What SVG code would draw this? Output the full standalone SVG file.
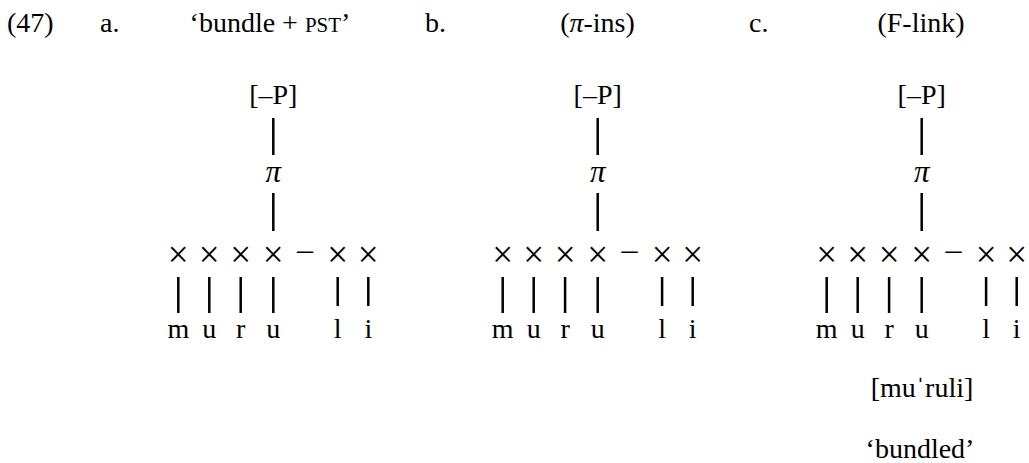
<svg xmlns="http://www.w3.org/2000/svg" width="1029" height="463" viewBox="0 0 1029 463">
<style>
text{font-family:'Liberation Serif','Times New Roman',Times,serif;font-size:28px;fill:#000}
.m{text-anchor:middle}
.it{font-style:italic}
.pi{font-size:31px}
.sc{font-size:21px}
.x{font-size:37px}
.d{font-size:32px}
.conn line{stroke:#000;stroke-width:2.5}
</style>
<rect width="1029" height="463" fill="#fff"/>
<g id="header">
<text x="7" y="32">(47)</text>
<text x="100" y="32">a.</text>
<text class="m" x="270" y="32">‘bundle + <tspan class="sc">PST</tspan>’</text>
<text x="425" y="32">b.</text>
<text class="m" x="597.5" y="32">(<tspan class="it">π</tspan>-ins)</text>
<text x="749" y="32">c.</text>
<text class="m" x="921" y="32">(F-link)</text>
</g>
<g id="tree-a">
<g id="a-P"><text class="m" x="273.3" y="104">[–P]</text></g>
<g id="a-pi"><text class="m it pi" x="273.3" y="182">π</text></g>
<g id="a-x1"><text class="m x" x="178.3" y="266.5">×</text></g>
<g id="a-x2"><text class="m x" x="209.3" y="266.5">×</text></g>
<g id="a-x3"><text class="m x" x="240.7" y="266.5">×</text></g>
<g id="a-x4"><text class="m x" x="273.3" y="266.5">×</text></g>
<g id="a-dash"><text class="m d" x="305" y="260">–</text></g>
<g id="a-x5"><text class="m x" x="337.7" y="266.5">×</text></g>
<g id="a-x6"><text class="m x" x="368.3" y="266.5">×</text></g>
<g id="a-m"><text class="m" x="178.3" y="338">m</text></g>
<g id="a-u1"><text class="m" x="209.3" y="338">u</text></g>
<g id="a-r"><text class="m" x="240.7" y="338">r</text></g>
<g id="a-u2"><text class="m" x="273.3" y="338">u</text></g>
<g id="a-l"><text class="m" x="337.7" y="338">l</text></g>
<g id="a-i"><text class="m" x="368.3" y="338">i</text></g>
</g>
<g id="tree-b">
<g id="b-P"><text class="m" x="597.7" y="104">[–P]</text></g>
<g id="b-pi"><text class="m it pi" x="597.7" y="182">π</text></g>
<g id="b-x1"><text class="m x" x="502.7" y="266.5">×</text></g>
<g id="b-x2"><text class="m x" x="533.7" y="266.5">×</text></g>
<g id="b-x3"><text class="m x" x="565.1" y="266.5">×</text></g>
<g id="b-x4"><text class="m x" x="597.7" y="266.5">×</text></g>
<g id="b-dash"><text class="m d" x="629.4" y="260">–</text></g>
<g id="b-x5"><text class="m x" x="662.1" y="266.5">×</text></g>
<g id="b-x6"><text class="m x" x="692.7" y="266.5">×</text></g>
<g id="b-m"><text class="m" x="502.7" y="338">m</text></g>
<g id="b-u1"><text class="m" x="533.7" y="338">u</text></g>
<g id="b-r"><text class="m" x="565.1" y="338">r</text></g>
<g id="b-u2"><text class="m" x="597.7" y="338">u</text></g>
<g id="b-l"><text class="m" x="662.1" y="338">l</text></g>
<g id="b-i"><text class="m" x="692.7" y="338">i</text></g>
</g>
<g id="tree-c">
<g id="c-P"><text class="m" x="921.7" y="104">[–P]</text></g>
<g id="c-pi"><text class="m it pi" x="921.7" y="182">π</text></g>
<g id="c-x1"><text class="m x" x="826.7" y="266.5">×</text></g>
<g id="c-x2"><text class="m x" x="857.7" y="266.5">×</text></g>
<g id="c-x3"><text class="m x" x="889.1" y="266.5">×</text></g>
<g id="c-x4"><text class="m x" x="921.7" y="266.5">×</text></g>
<g id="c-dash"><text class="m d" x="953.4" y="260">–</text></g>
<g id="c-x5"><text class="m x" x="986.1" y="266.5">×</text></g>
<g id="c-x6"><text class="m x" x="1016.7" y="266.5">×</text></g>
<g id="c-m"><text class="m" x="826.7" y="338">m</text></g>
<g id="c-u1"><text class="m" x="857.7" y="338">u</text></g>
<g id="c-r"><text class="m" x="889.1" y="338">r</text></g>
<g id="c-u2"><text class="m" x="921.7" y="338">u</text></g>
<g id="c-l"><text class="m" x="986.1" y="338">l</text></g>
<g id="c-i"><text class="m" x="1016.7" y="338">i</text></g>
<g id="c-ipa"><text class="m" x="922" y="397">[muˈruli]</text></g>
<g id="c-gloss"><text class="m" x="920" y="458">‘bundled’</text></g>
</g>
<g id="connectors" class="conn">
<line x1="273.3" y1="118" x2="273.3" y2="155"/>
<line x1="273.3" y1="193" x2="273.3" y2="231"/>
<line x1="178.3" y1="277" x2="178.3" y2="313"/>
<line x1="209.3" y1="277" x2="209.3" y2="313"/>
<line x1="240.7" y1="277" x2="240.7" y2="313"/>
<line x1="273.3" y1="277" x2="273.3" y2="313"/>
<line x1="337.7" y1="277" x2="337.7" y2="306"/>
<line x1="368.3" y1="277" x2="368.3" y2="306"/>
<line x1="597.7" y1="118" x2="597.7" y2="155"/>
<line x1="597.7" y1="193" x2="597.7" y2="231"/>
<line x1="502.7" y1="277" x2="502.7" y2="313"/>
<line x1="533.7" y1="277" x2="533.7" y2="313"/>
<line x1="565.1" y1="277" x2="565.1" y2="313"/>
<line x1="597.7" y1="277" x2="597.7" y2="313"/>
<line x1="662.1" y1="277" x2="662.1" y2="306"/>
<line x1="692.7" y1="277" x2="692.7" y2="306"/>
<line x1="921.7" y1="118" x2="921.7" y2="155"/>
<line x1="921.7" y1="193" x2="921.7" y2="231"/>
<line x1="826.7" y1="277" x2="826.7" y2="313"/>
<line x1="857.7" y1="277" x2="857.7" y2="313"/>
<line x1="889.1" y1="277" x2="889.1" y2="313"/>
<line x1="921.7" y1="277" x2="921.7" y2="313"/>
<line x1="986.1" y1="277" x2="986.1" y2="306"/>
<line x1="1016.7" y1="277" x2="1016.7" y2="306"/>
</g>
</svg>
